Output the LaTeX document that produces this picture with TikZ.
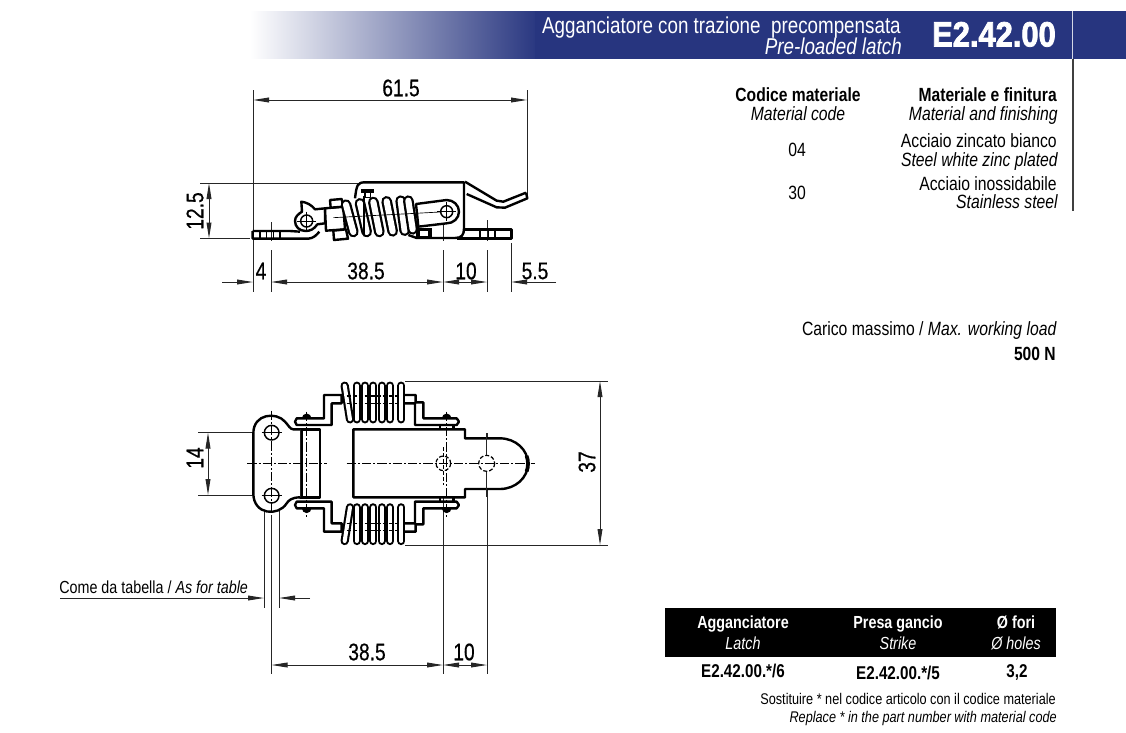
\documentclass[tikz,border=0pt]{standalone}
\usepackage{fontspec}
\usetikzlibrary{arrows.meta}
\setmainfont[FakeStretch=0.82]{Liberation Sans}
\newfontfamily\dimfont[FakeStretch=0.8,FakeBold=0.5]{Liberation Sans}
\newfontfamily\codefont[FakeStretch=0.88,FakeBold=2.2]{Liberation Sans Bold}
\definecolor{banner}{HTML}{27357F}
\tikzset{
  thin line/.style={line width=0.75pt,black!85},
  dimline/.style={thin line,{Triangle[length=12pt,width=3.6pt]}-{Triangle[length=12pt,width=3.6pt]}},
  leftleader/.style={thin line,-{Triangle[length=12pt,width=3.6pt]}},
  part/.style={line width=1.8pt,black,line join=round},
  partthin/.style={line width=1.1pt,black,line join=round},
  axisline/.style={line width=0.7pt,black,dash pattern=on 7pt off 1.5pt on 1.5pt off 1.5pt},
  hidden/.style={line width=0.9pt,black,dash pattern=on 3pt off 1.5pt},
  dimtext/.style={inner sep=0pt,font=\dimfont\fontsize{18}{18}\selectfont},
  rdim/.style={dimtext,rotate=90},
  label/.style={inner sep=0pt,anchor=base,font=\fontsize{14.4}{15}\selectfont},
  rlabel/.style={label,anchor=base east},
  it/.style={font=\fontsize{14.4}{15}\selectfont\itshape},
  bf/.style={font=\fontsize{14.3}{15}\selectfont\bfseries},
  tbit/.style={font=\fontsize{13.1}{14}\selectfont\itshape},
  tbbf/.style={font=\fontsize{13.1}{14}\selectfont\bfseries},
  rowbf/.style={font=\fontsize{13.9}{14}\selectfont\bfseries},
  cdt/.style={font=\fontsize{13.1}{14}\selectfont},
  small/.style={font=\fontsize{11.6}{12}\selectfont},
  smallit/.style={font=\fontsize{11.6}{12}\selectfont\itshape}
}
\newcommand{\coil}[4]{%
  \draw[line width=6.2pt,line cap=round,black] (#1,#2) -- (#3,#4);
  \draw[line width=3pt,line cap=round,white] (#1,#2) -- (#3,#4);}
\newcommand{\scoil}[4]{%
  \draw[line width=8pt,line cap=round,black] (#1,#2) -- (#3,#4);
  \draw[line width=4.6pt,line cap=round,white] (#1,#2) -- (#3,#4);}
\newcommand{\planhalf}{%
  % rivet heads
  \draw[partthin,fill=black] (188,145) arc (180:360:12);
  \draw[partthin,fill=black] (608,145) arc (180:360:12);
  % bracket
  \draw[part,fill=white] (252,145) -- (170,145) -- (165,155) -- (170,165) -- (275,165) -- (275,100) -- (305,100) -- (305,75) -- (252,75) -- cycle;
  \draw[part] (495,75) -- (527,75) -- (527,97) -- (550,97) -- (550,145) -- (650,145) -- (657,155) -- (650,165) -- (525,165) -- (525,100) -- (495,100);
  \draw[part] (600,165) -- (600,178) (640,165) -- (640,178);
  % coils
  \coil{314}{47}{330}{148}
  \coil{350}{47}{350}{148}
  \coil{375}{47}{375}{148}
  \coil{400}{47}{400}{148}
  \coil{425}{47}{425}{148}
  \coil{450}{47}{450}{148}
  \coil{484}{47}{484}{148}
  \draw[hidden] (320,78) -- (480,78) (320,100) -- (480,100);
}
\begin{document}
\begin{tikzpicture}[x=0.75pt,y=-0.75pt]
\useasboundingbox (0,0) rectangle (1126,732);
\fill[white] (0,0) rectangle (1126,732);
% banner
\shade[left color=white,right color=banner] (250,11) rectangle (540,58.6);
\fill[banner] (535,11) rectangle (1126,59);
\draw[white!80!banner,line width=0.7pt] (1072,11) -- (1072,59);
\draw[black!75,line width=0.9pt] (1073,59) -- (1073,211);
\node[rlabel,white,font=\fontsize{17.2}{17}\selectfont] (title) at (901,33) {Agganciatore con trazione\ \ precompensata};
\node[rlabel,white,font=\fontsize{17.2}{17}\selectfont\itshape] (titleen) at (902,54.5) {Pre-loaded latch};
\node[rlabel,white,font=\codefont\fontsize{26.3}{26}\selectfont] (code) at (1056,46.5) {E2.42.00};
% material table
\node[label,bf] (h1) at (798,101.5) {Codice materiale};
\node[label,it] (h1e) at (798,120.5) {Material code};
\node[rlabel,bf] (h2) at (1057,101.5) {Materiale e finitura};
\node[rlabel,it] (h2e) at (1058,120.5) {Material and finishing};
\node[label] (m04) at (797,156.5) {04};
\node[label] (m30) at (797,199.5) {30};
\node[rlabel] (s1) at (1057,147.5) {Acciaio zincato bianco};
\node[rlabel,it] (s1e) at (1058,166) {Steel white zinc plated};
\node[rlabel] (s2) at (1057,190.5) {Acciaio inossidabile};
\node[rlabel,it] (s2e) at (1058,208.5) {Stainless steel};
\node[rlabel] (load) at (1057,335.5) {Carico massimo / \textit{Max. working load}};
\node[rlabel,bf] (loadv) at (1056,360.5) {500 N};
% lower table
\fill[black] (665,608) rectangle (1056,657);
\node[label,tbbf,white] (t1) at (743,628.5) {Agganciatore};
\node[label,tbit,white] (t1e) at (743,649) {Latch};
\node[label,tbbf,white] (t2) at (898,628.5) {Presa gancio};
\node[label,tbit,white] (t2e) at (898,649) {Strike};
\node[label,tbbf,white] (t3) at (1016,628.5) {Ø fori};
\node[label,tbit,white] (t3e) at (1016,649) {Ø holes};
\node[label,rowbf] (r1) at (743,677.5) {E2.42.00.*/6};
\node[label,rowbf] (r2) at (898,679) {E2.42.00.*/5};
\node[label,rowbf] (r3) at (1017,677.5) {3,2};
\node[rlabel,small] (n1) at (1056,704.5) {Sostituire * nel codice articolo con il codice materiale};
\node[rlabel,smallit] (n2) at (1057,722.5) {Replace * in the part number with material code};

% ---------- side view dimensions
\draw[thin line] (253,90) -- (253,292) (527,90) -- (527,195);
\draw[thin line] (200,183) -- (362,183) (200,238.5) -- (250,238.5);
\draw[dimline] (253,100) -- (527,100);
\draw[dimline] (209,183) -- (209,238.5);
\draw[thin line] (271,222) -- (271,241) (271,250) -- (271,292);
\draw[thin line] (443,212) -- (443,241) (443,250) -- (443,292);
\draw[thin line] (487,220) -- (487,241) (487,250) -- (487,292);
\draw[thin line] (511,243) -- (511,292);
\draw[leftleader] (222,282) -- (253,282);
\draw[dimline] (271,282) -- (443,282);
\draw[leftleader] (467,282) -- (443,282);
\draw[leftleader] (466,282) -- (487,282);
\draw[leftleader] (556,282) -- (511,282);
\node[dimtext] (d615) at (401,88) {61.5};
\node[rdim] (d125) at (195,211) {12.5};
\node[dimtext] (d4) at (261,271) {4};
\node[dimtext] (d385) at (366,271) {38.5};
\node[dimtext] (d10) at (466,271) {10};
\node[dimtext] (d55) at (535,271) {5.5};

% ---------- side view part
\begin{scope}[shift={(240,170)},x=0.25pt,y=-0.25pt]
  % handle
  \draw[part] (675,35) -- (770,92) -- (790,95) -- (858,68);
  \draw[part] (680,72) -- (770,112) -- (795,113) -- (862,85) -- (858,68);
  % body
  \draw[part] (345,85) .. controls (350,45) and (352,37) .. (375,37) -- (672,37) -- (672,175) .. controls (672,195) and (665,204) .. (645,204) -- (530,204) -- (505,195);
  \draw[part] (675,178) -- (815,178) -- (815,205) -- (650,205);
  \draw[partthin] (720,178) -- (720,205) (745,178) -- (745,205) (765,178) -- (765,205);
  % left plate
  \draw[part] (38,183) -- (150,183) -- (180,185) (38,183) -- (38,206) -- (205,206) .. controls (220,205) and (230,195) .. (238,185);
  \draw[partthin] (60,183) -- (60,206) (80,183) -- (80,206) (100,183) -- (100,206) (120,183) -- (120,206);
  \fill[black] (362,56) rectangle (402,70);
  \draw[partthin] (375,68) rectangle (392,82);
  \fill[black] (528,175) rectangle (577,205);
  \fill[white] (540,182) rectangle (565,198);
  % link with eye (left)
  \draw[part,fill=white] (184,95) .. controls (200,97) and (215,105) .. (225,118) -- (255,115) -- (255,160) -- (232,163) .. controls (222,178) and (210,183) .. (197,183) .. controls (178,183) and (165,170) .. (165,153) .. controls (165,140) and (175,132) .. (186,125) -- cycle;
  \draw[part,fill=white] (255,115) -- (310,110) -- (315,178) -- (258,182) -- cycle;
  % end rod with eye (right)
  \draw[part,fill=white] (528,102) -- (620,90) .. controls (640,90) and (657,105) .. (657,125) .. controls (657,145) and (640,160) .. (620,160) -- (535,170) -- cycle;
  % collars
  \draw[part,fill=white] (270,90) -- (305,87) -- (310,110) -- (272,113) -- cycle;
  \draw[part,fill=white] (280,182) -- (318,178) -- (324,206) -- (282,210) -- cycle;
  % coils
  \scoil{318}{104}{340}{186}
  \scoil{360}{100}{380}{186}
  \scoil{400}{96}{418}{186}
  \scoil{440}{94}{458}{184}
  \scoil{482}{92}{494}{182}
  \scoil{505}{92}{518}{178}
  \draw[line width=0.5pt,black] (280,143) -- (620,125);
  \draw[line width=1.2pt,black] (372,78) -- (372,195);
  % holes
  \draw[partthin,fill=white] (200,153) circle (18);
  \draw[line width=.5pt] (172,153) -- (228,153) (200,125) -- (200,181);
  \draw[partthin,fill=white] (620,125) circle (18);
  \draw[line width=.5pt] (592,125) -- (648,125) (620,97) -- (620,153);
\end{scope}

% ---------- plan view dimensions
\draw[thin line] (405,381) -- (608,381) (405,545) -- (608,545);
\draw[dimline] (600,381) -- (600,545);
\node[rdim] (d37) at (587,462) {37};
\draw[thin line] (198,432.5) -- (264,432.5) (198,495) -- (264,495);
\draw[dimline] (208,432.5) -- (208,495);
\node[rdim] (d14) at (195,458) {14};
\draw[thin line] (264,505) -- (264,608) (279,500) -- (279,608);
\draw[thin line] (271.5,515) -- (271.5,674);
\draw[thin line] (443,485) -- (443,674) (487,433) -- (487,674);
\draw[thin line] (60,598) -- (216,598);
\draw[leftleader] (216,598) -- (264,598);
\draw[leftleader] (310,598) -- (279,598);
\node[label,cdt,anchor=base west] (cdtx) at (59,593) {Come da tabella / \textit{As for table}};
\draw[dimline] (271.5,665) -- (443,665);
\draw[dimline] (443,665) -- (487,665);
\node[dimtext] (l385) at (367,652) {38.5};
\node[dimtext] (l10) at (464,652) {10};

% ---------- plan view part
\begin{scope}[shift={(240,370)},x=0.25pt,y=-0.25pt]
  \planhalf
  \begin{scope}[shift={(0,560)},x=0.25pt,y=0.25pt]
    \planhalf
  \end{scope}
  % main body
  \draw[part,fill=white] (340,178) -- (675,178) -- (675,205) -- (780,205) arc (-90:90:84 and 76) -- (675,357) -- (675,382) -- (340,382) -- cycle;
  \draw[line width=2.8pt] (859.9,257.5) arc (-18:18:84 and 76);
  % hinge bar
  \draw[part,fill=white] (180,178) rectangle (240,382);
  \draw[line width=3pt] (183,178) -- (183,382);
  % link plate
  \draw[part,fill=white] (180,178) -- (160,178) .. controls (150,178) and (145,165) .. (135,155) .. controls (110,125) and (40,130) .. (40,190) -- (40,370) .. controls (40,435) and (115,440) .. (140,400) .. controls (145,392) and (155,382) .. (180,382);
  \draw[partthin,fill=white] (95,188) circle (22);
  \draw[partthin,fill=white] (95,377) circle (22);
  % centre lines
  \draw[axisline] (22,280) -- (262,280) (320,280) -- (885,280);
  \draw[axisline] (95,122) -- (95,432) (200,125) -- (200,440) (620,125) -- (620,440);
  \draw[line width=.5pt] (65,188) -- (125,188) (65,377) -- (125,377);
  % hidden holes and projection lines
  \draw[hidden] (610,280) circle (22);
  \draw[hidden] (740,280) circle (24);
  \draw[hidden] (610,232) -- (610,345);
  \draw[thin line] (740,190) -- (740,255) (740,305) -- (740,380);
\end{scope}
\end{tikzpicture}
\end{document}
